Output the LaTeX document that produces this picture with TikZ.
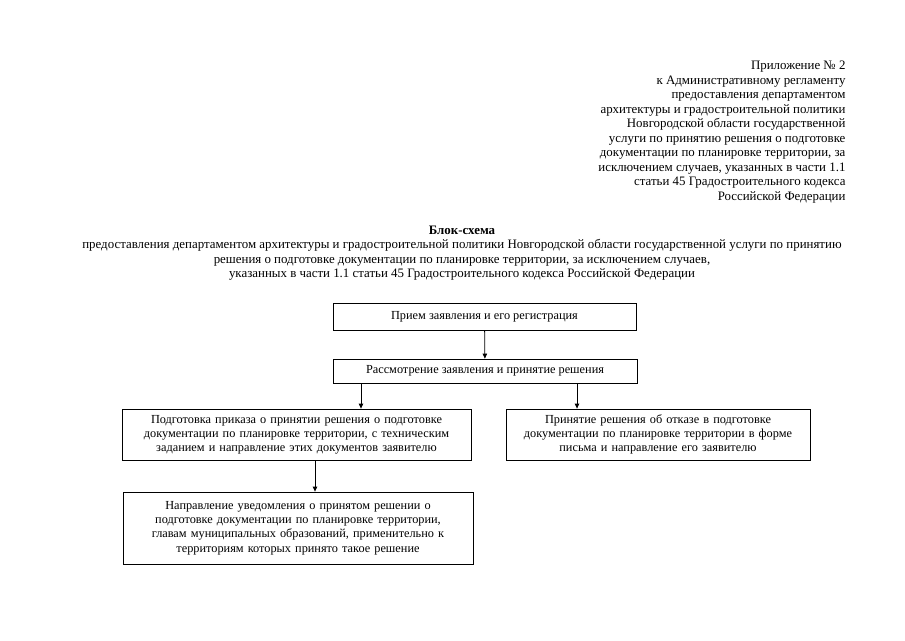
\documentclass[tikz,border=0pt]{standalone}
\usepackage{fontspec}
\setmainfont{Liberation Serif}
\usetikzlibrary{arrows.meta}

\tikzset{
  txt/.style={font=\fontsize{12.9}{14.5}\selectfont},
  box/.style={draw, line width=0.8pt, inner sep=0pt, align=center, font=\fontsize{12.3}{14.2}\selectfont},
  arr/.style={-{Triangle[length=5pt,width=4.5pt]}, line width=0.8pt}
}

\begin{document}
\begin{tikzpicture}[x=1pt,y=-1pt]
    \useasboundingbox (0,0) rectangle (905,640);
    \node[txt, align=right, anchor=east] (head) at (849,132) {Приложение № 2\\к Административному регламенту\\предоставления департаментом\\архитектуры и градостроительной политики\\Новгородской области государственной\\услуги по принятию решения о подготовке\\документации по планировке территории, за\\исключением случаев, указанных в части 1.1\\статьи 45 Градостроительного кодекса\\Российской Федерации};
    \node[txt, align=center] (title) at (462,253) {\textbf{Блок-схема}\\предоставления департаментом архитектуры и градостроительной политики Новгородской области государственной услуги по принятию\\решения о подготовке документации по планировке территории, за исключением случаев,\\указанных в части 1.1 статьи 45 Градостроительного кодекса Российской Федерации};

    \node[box, minimum width=303pt, minimum height=27pt] (1) at (484.5,316.5) {Прием заявления и его регистрация};
    \node[box, minimum width=304pt, minimum height=24pt] (2) at (485,371) {Рассмотрение заявления и принятие решения};
    \node[box, text width=349pt, minimum height=51pt] (3) at (296.5,434.5) {Подготовка приказа о принятии решения о подготовке\\документации по планировке территории, с техническим\\заданием и направление этих документов заявителю};
    \node[box, text width=304pt, minimum height=51pt] (4) at (658,434.5) {Принятие решения об отказе в подготовке\\документации по планировке территории в форме\\письма и направление его заявителю};
    \node[box, text width=350pt, minimum height=72pt] (5) at (298,528) {Направление уведомления о принятом решении о\\подготовке документации по планировке территории,\\главам муниципальных образований, применительно к\\территориям которых принято такое решение};

    \coordinate (left) at (361,0);
    \coordinate (right) at (577,0);
    \coordinate (down) at (315,0);

    \path [arr] (1) edge (2);
    \draw [arr] (2.south -| left) -- (3.north -| left);
    \draw [arr] (2.south -| right) -- (4.north -| right);
    \draw [arr] (3.south -| down) -- (5.north -| down);
\end{tikzpicture}
\end{document}
